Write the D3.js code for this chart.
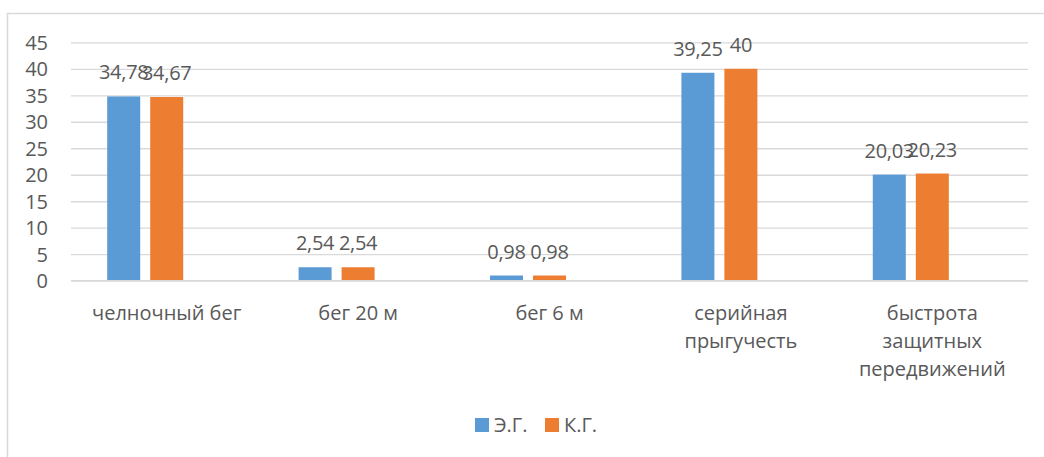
<!DOCTYPE html>
<html>
<head>
<meta charset="utf-8">
<script src="https://cdn.jsdelivr.net/npm/d3@7/dist/d3.min.js"></script>
<style>
  html, body { margin: 0; padding: 0; background: #fff; }
  svg { display: block; }
  text { font-family: "Open Sans", "Noto Sans", sans-serif; fill: #595959; }
</style>
</head>
<body>
<svg id="chart" width="1044" height="457"></svg>
<script>
const categories = ["челночный бег", "бег 20 м", "бег 6 м", "серийная прыгучесть", "быстрота защитных передвижений"];
const seriesNames = ["Э.Г.", "К.Г."];
const egValues = [34.78, 2.54, 0.98, 39.25, 20.03];
const kgValues = [34.67, 2.54, 0.98, 40, 20.23];
const valueLabelsEG = ["34,78", "2,54", "0,98", "39,25", "20,03"];
const valueLabelsKG = ["34,67", "2,54", "0,98", "40", "20,23"];
const yTicks = [0, 5, 10, 15, 20, 25, 30, 35, 40, 45];
const colors = ["#5B9BD5", "#ED7D31"];

const series = [
  { name: seriesNames[0], values: egValues, labels: valueLabelsEG, color: colors[0] },
  { name: seriesNames[1], values: kgValues, labels: valueLabelsKG, color: colors[1] }
];

const svg = d3.select("#chart");
const W = 1044, H = 457;
const plot = { left: 71, right: 1028, top: 42.3, bottom: 280.7 };

// chart border (top and left visible)
svg.append("path")
  .attr("d", `M7.5,${H} L7.5,13.5 L${W},13.5`)
  .attr("fill", "none").attr("stroke", "#D9D9D9").attr("stroke-width", 1.5);

const x = d3.scaleBand().domain(categories).range([plot.left, plot.right]).paddingInner(0).paddingOuter(0);
const y = d3.scaleLinear().domain([0, 45]).range([plot.bottom, plot.top]);

// inner slots: 3 slots (third slot empty, as in reference layout)
const bw = 33, gap = 10;
const groupW = 3 * bw + 2 * gap;
const slot = i => (x.bandwidth() - groupW) / 2 + i * (bw + gap);

// gridlines + tick labels
const yAxis = d3.axisLeft(y).tickValues(yTicks).tickSize(-(plot.right - plot.left)).tickFormat(d => d);
const gy = svg.append("g").attr("transform", `translate(${plot.left},0)`).call(yAxis);
gy.select(".domain").remove();
gy.selectAll(".tick line").attr("stroke", "#D9D9D9").attr("stroke-width", 1.3);
gy.selectAll(".tick text")
  .attr("x", -23).attr("dy", "0.35em")
  .style("font-size", "20px").style("fill", "#595959").attr("font-family", null);

// bars and value labels
series.forEach((s, si) => {
  const g = svg.append("g");
  g.selectAll("rect").data(categories).join("rect")
    .attr("x", (c) => x(c) + slot(si))
    .attr("y", (c, i) => y(s.values[i]))
    .attr("width", bw)
    .attr("height", (c, i) => y(0) - y(s.values[i]))
    .attr("fill", s.color);
  g.selectAll("text").data(categories).join("text")
    .attr("x", (c) => x(c) + slot(si) + bw / 2)
    .attr("y", (c, i) => y(s.values[i]) - 17)
    .attr("text-anchor", "middle")
    .style("font-size", "20px")
    .style("letter-spacing", "-0.3px")
    .text((c, i) => s.labels[i]);
});

// x axis line
svg.append("line")
  .attr("x1", plot.left).attr("x2", plot.right)
  .attr("y1", y(0)).attr("y2", y(0))
  .attr("stroke", "#D9D9D9").attr("stroke-width", 1.3);

// category labels with wrapping
const maxW = 175;
const catFont = "20px";
categories.forEach(c => {
  const cx = x(c) + x.bandwidth() / 2;
  const t = svg.append("text")
    .attr("x", cx)
    .attr("y", 320)
    .attr("text-anchor", "middle")
    .style("font-size", catFont);
  const words = c.split(" ");
  let lines = [], cur = [];
  const probe = svg.append("text").style("font-size", catFont);
  words.forEach(w => {
    const test = cur.concat([w]).join(" ");
    probe.text(test);
    if (probe.node().getComputedTextLength() > maxW && cur.length) {
      lines.push(cur.join(" "));
      cur = [w];
    } else cur.push(w);
  });
  lines.push(cur.join(" "));
  probe.remove();
  lines.forEach((l, i) => {
    t.append("tspan").attr("x", cx).attr("dy", i === 0 ? 0 : 28).text(l);
  });
});

// legend
const legendX = [475, 545];
series.forEach((s, i) => {
  svg.append("rect").attr("x", legendX[i]).attr("y", 418).attr("width", 14).attr("height", 14).attr("fill", s.color);
  svg.append("text").attr("x", legendX[i] + 19).attr("y", 432).style("font-size", "20px").text(s.name);
});
</script>
</body>
</html>
